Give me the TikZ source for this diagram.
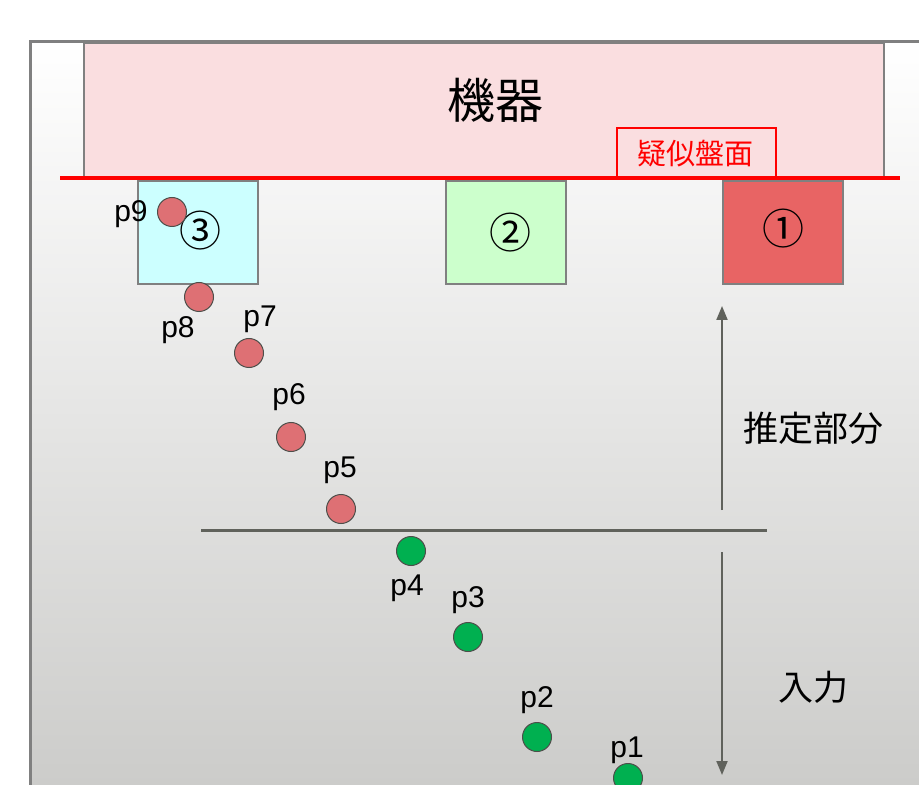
\documentclass[tikz,border=0pt]{standalone}
\usepackage{fontspec}
\setmainfont{Liberation Sans}
\newfontfamily\cjk{Noto Sans CJK JP}
\usetikzlibrary{arrows.meta}
\definecolor{frameg}{RGB}{128,128,128}
\definecolor{pinkbg}{RGB}{250,222,224}
\definecolor{boxcyan}{RGB}{204,255,255}
\definecolor{boxgreen}{RGB}{204,255,204}
\definecolor{boxred}{RGB}{232,100,100}
\definecolor{dotred}{RGB}{222,112,116}
\definecolor{dotgreen}{RGB}{0,176,80}
\definecolor{bggray}{RGB}{204,204,202}
\definecolor{lineg}{RGB}{96,98,92}
\tikzset{
  slot/.style={draw=frameg, line width=1pt, minimum width=60pt, minimum height=51.5pt, inner sep=0pt},
  digit/.style={font=\cjk\fontsize{21}{21}\selectfont, inner sep=0pt},
  pt/.style={circle, draw=lineg!80!black, line width=0.5pt, minimum size=14.5pt, inner sep=0pt},
  redpt/.style={pt, fill=dotred},
  greenpt/.style={pt, fill=dotgreen},
  plabel/.style={font=\fontsize{15}{15}\selectfont, inner sep=0pt},
  bigtext/.style={font=\cjk\fontsize{17.5}{17.5}\selectfont, inner sep=0pt},
  dimarrow/.style={draw=lineg, line width=1pt, -{Triangle[length=7pt,width=5.5pt]}}
}
\begin{document}
\begin{tikzpicture}[x=0.5pt,y=-0.5pt]
\useasboundingbox (0,0) rectangle (919,785);
\begin{scope}
\clip (0,0) rectangle (919,785);
\fill[white] (0,0) rectangle (919,785);
\shade[top color=white, bottom color=bggray] (30,42) rectangle (960,785);
\draw[frameg, line width=1.5pt] (960,42) -- (30,42) -- (30,800);
% device
\node[draw=frameg, line width=1pt, fill=pinkbg, minimum width=400pt, minimum height=68pt, inner sep=0pt, anchor=north west] (dev) at (83,42) {};
\node[font=\cjk\fontsize{24}{24}\selectfont] (devlabel) at (495,100) {機器};
\node[draw=red, line width=0.8pt, minimum width=79.5pt, minimum height=25.5pt, inner sep=0pt, anchor=north west] (pseudo) at (616,127) {};
\node[text=red, font=\cjk\fontsize{14.5}{14.5}\selectfont] (pseudolabel) at (695,154) {疑似盤面};
\coordinate (rl) at (60,178);
\coordinate (rr) at (900,178);
% slots
\node[slot, fill=boxcyan, anchor=north west] (s3) at (137,180) {};
\node[slot, fill=boxgreen, anchor=north west] (s2) at (445,180) {};
\node[slot, fill=boxred, anchor=north west] (s1) at (722,180) {};
\draw[red, line width=2pt] (rl) -- (rr);
\node[digit] (n3) at (200,231) {③};
\node[digit] (n2) at (510,233) {②};
\node[digit] (n1) at (783,229) {①};
% divider
\coordinate (dl) at (201,530);
\coordinate (dr) at (767,530);
\draw[lineg, line width=1.5pt] (dl) -- (dr);
% points
\node[redpt] (p9) at (172,212) {};
\node[redpt] (p8) at (199,297) {};
\node[redpt] (p7) at (249,353) {};
\node[redpt] (p6) at (291,437) {};
\node[redpt] (p5) at (341,509) {};
\node[greenpt] (p4) at (411,551) {};
\node[greenpt] (p3) at (468,637) {};
\node[greenpt] (p2) at (537,737) {};
\node[greenpt] (p1) at (628,778) {};
\node[plabel] (l9) at (131,214) {p9};
\node[plabel] (l8) at (178,330) {p8};
\node[plabel] (l7) at (260,319) {p7};
\node[plabel] (l6) at (289,397) {p6};
\node[plabel] (l5) at (340,470) {p5};
\node[plabel] (l4) at (407,588) {p4};
\node[plabel] (l3) at (468,600) {p3};
\node[plabel] (l2) at (537,700) {p2};
\node[plabel] (l1) at (627,750) {p1};
% arrows
\coordinate (a1s) at (722,510);
\coordinate (a1e) at (722,306);
\coordinate (a2s) at (722,552);
\coordinate (a2e) at (722,775);
\draw[dimarrow] (a1s) -- (a1e);
\draw[dimarrow] (a2s) -- (a2e);
\node[bigtext] (est) at (813,428) {推定部分};
\node[bigtext] (inp) at (813,687) {入力};
\end{scope}
\end{tikzpicture}
\end{document}
